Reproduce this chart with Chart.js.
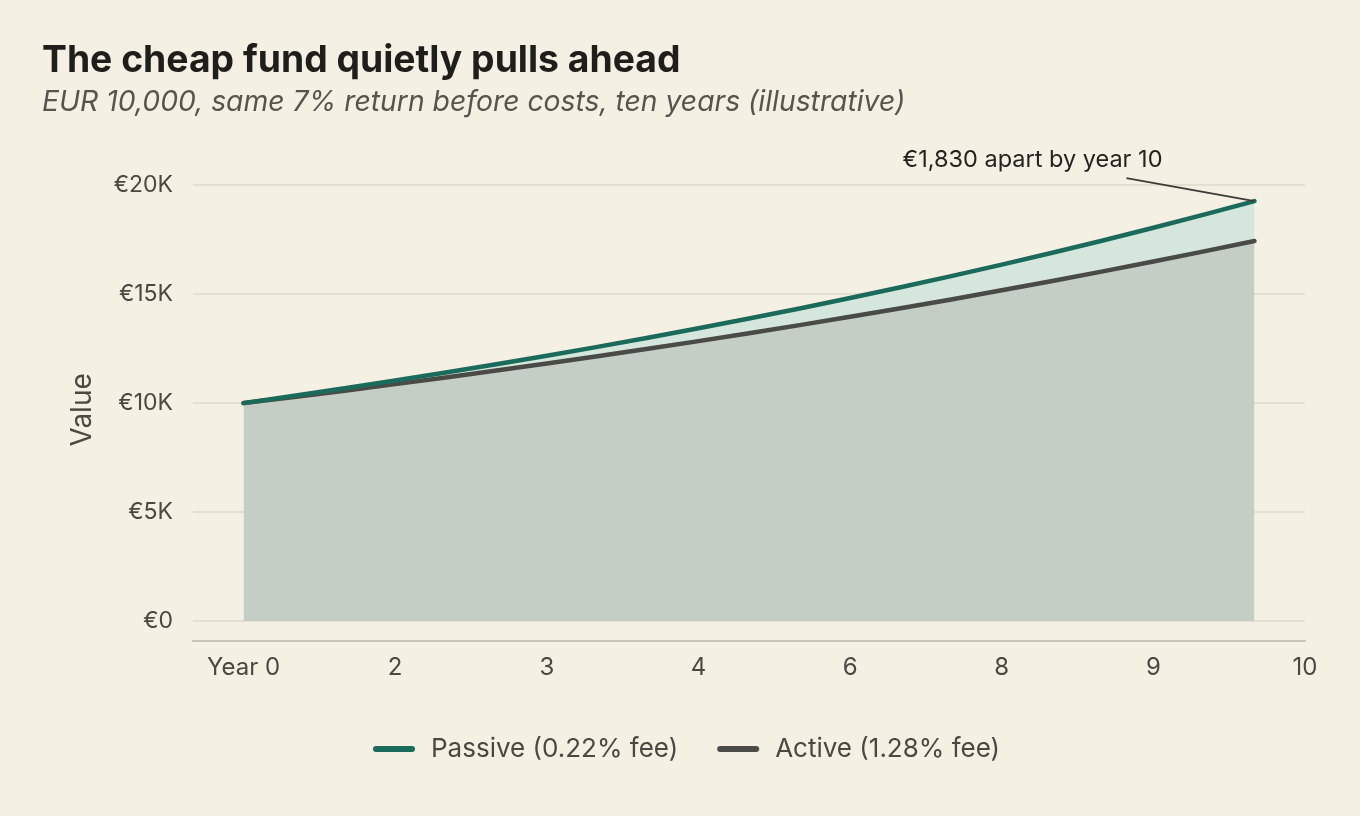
<!DOCTYPE html>
<html>
<head>
<meta charset="utf-8">
<script src="https://cdn.jsdelivr.net/npm/chart.js@4/dist/chart.umd.min.js"></script>
<style>
  html, body { margin: 0; padding: 0; background: #f4f0e4; }
  #wrap { width: 1360px; height: 816px; }
</style>
</head>
<body>
<div id="wrap"><canvas id="chart" width="1360" height="816"></canvas></div>
<script>
const years = [0, 1, 2, 3, 4, 5, 6, 7, 8, 9, 10];
const passive = [10000, 10678, 11402, 12175, 13001, 13882, 14823, 15828, 16901, 18047, 19271];
const active = [10000, 10572, 11177, 11816, 12492, 13206, 13961, 14760, 15604, 16497, 17441];

const xTickValues = [0, 1.5, 3, 4.5, 6, 7.5, 9, 10.5];
const xTickLabels = ['Year 0', '2', '3', '4', '6', '8', '9', '10'];
const yTickValues = [0, 5000, 10000, 15000, 20000];
const yTickLabels = ['€0', '€5K', '€10K', '€15K', '€20K'];

const FONT = 'Inter';
const TEAL = '#1b6b5d';
const DARK = '#4a4a46';
const TEXT = '#4a4840';

// legend swatch: short thick line with room on the left
const makeMarker = (color) => {
    const c = document.createElement('canvas');
    c.width = 71;
    c.height = 12;
    const g = c.getContext('2d');
    g.strokeStyle = color;
    g.lineWidth = 6;
    g.lineCap = 'round';
    g.beginPath();
    g.moveTo(29, 6);
    g.lineTo(65, 6);
    g.stroke();
    return c;
};

// label over the gap at the last year
const gapNote = {
    id: 'gapNote',
    afterDatasetsDraw(chart) {
        const { ctx, scales: { x, y } } = chart;
        const last = years.length - 1;
        const px = x.getPixelForValue(years[last]);
        const py = y.getPixelForValue(passive[last]);
        const gap = passive[last] - active[last];

        ctx.save();
        ctx.strokeStyle = '#3b3b38';
        ctx.lineWidth = 2;
        ctx.beginPath();
        ctx.moveTo(px - 128, py - 23);
        ctx.lineTo(px, py);
        ctx.stroke();

        ctx.fillStyle = '#24231f';
        ctx.font = `23.5px ${FONT}`;
        ctx.textAlign = 'right';
        ctx.textBaseline = 'middle';
        ctx.fillText(`€${gap.toLocaleString('en-US')} apart by year ${years[last]}`, px - 92, py - 41);
        ctx.restore();
    },
};

const toPoints = (values) => years.map((x, i) => ({ x, y: values[i] }));

new Chart(document.getElementById('chart'), {
    type: 'line',
    data: {
        datasets: [
            {
                label: 'Passive (0.22% fee)',
                data: toPoints(passive),
                borderColor: TEAL,
                backgroundColor: '#d5e6dc',
                borderWidth: 4.5,
                borderCapStyle: 'round',
                pointRadius: 0,
                tension: 0.3,
                fill: { target: 1 },
            },
            {
                label: 'Active (1.28% fee)',
                data: toPoints(active),
                borderColor: DARK,
                backgroundColor: '#c4cec5',
                borderWidth: 4.5,
                borderCapStyle: 'round',
                pointRadius: 0,
                tension: 0.3,
                fill: 'origin',
            },
        ],
    },
    options: {
        responsive: false,
        devicePixelRatio: 1,
        animation: false,
        layout: {
            padding: { left: 42, right: 55, top: 0, bottom: 44 },
        },
        plugins: {
            filler: { drawTime: 'beforeDatasetsDraw' },
            title: {
                display: true,
                text: 'The cheap fund quietly pulls ahead',
                align: 'start',
                color: '#1f1e1b',
                font: { family: FONT, size: 37.3, weight: 'bold' },
                padding: { top: 38, bottom: 3 },
            },
            subtitle: {
                display: true,
                text: 'EUR 10,000, same 7% return before costs, ten years (illustrative)',
                align: 'start',
                color: '#56544d',
                font: { family: FONT, size: 28.3, style: 'italic' },
                padding: { top: 0, bottom: 59 },
            },
            legend: {
                position: 'bottom',
                labels: {
                    color: TEXT,
                    font: { family: FONT, size: 26 },
                    usePointStyle: true,
                    pointStyleWidth: 71,
                    boxHeight: 26,
                    padding: 13,
                    generateLabels(chart) {
                        const items = Chart.defaults.plugins.legend.labels.generateLabels(chart);
                        items.forEach((item) => {
                            item.pointStyle = makeMarker(item.strokeStyle);
                        });
                        return items;
                    },
                },
            },
            tooltip: { enabled: false },
        },
        scales: {
            x: {
                type: 'linear',
                min: -0.5,
                max: 10.5,
                afterBuildTicks: (scale) => {
                    scale.ticks = xTickValues.map((value) => ({ value }));
                },
                afterFit: (scale) => {
                    scale.height = 82;
                },
                ticks: {
                    color: TEXT,
                    font: { family: FONT, size: 24 },
                    padding: 12,
                    maxRotation: 0,
                    autoSkip: false,
                    callback: (value, index) => xTickLabels[index],
                },
                grid: { display: false, drawTicks: false },
                border: { display: true, color: '#c9c5b9', width: 2 },
            },
            y: {
                min: -920,
                max: 20300,
                afterBuildTicks: (scale) => {
                    scale.ticks = yTickValues.map((value) => ({ value }));
                },
                afterFit: (scale) => {
                    scale.width = 151;
                },
                ticks: {
                    color: TEXT,
                    font: { family: FONT, size: 23 },
                    padding: 20,
                    callback: (value, index) => yTickLabels[index],
                },
                grid: { color: '#e3dfd3', lineWidth: 2, drawTicks: false },
                border: { display: false },
                title: {
                    display: true,
                    text: 'Value',
                    color: TEXT,
                    font: { family: FONT, size: 28 },
                    padding: { top: 24, bottom: 0 },
                },
            },
        },
    },
    plugins: [gapNote],
});
</script>
</body>
</html>
